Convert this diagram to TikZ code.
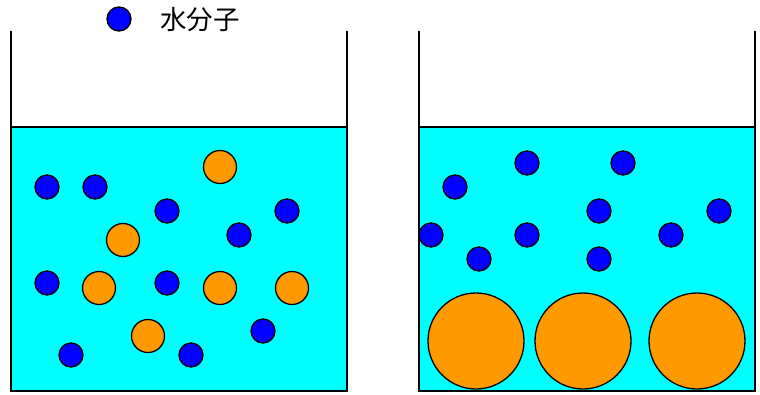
\documentclass[tikz,border=0pt]{standalone}
\usepackage{fontspec}
\newfontfamily\cjk{Noto Sans CJK JP}
\definecolor{water}{RGB}{0,255,255}
\definecolor{mol}{RGB}{0,0,255}
\definecolor{solute}{RGB}{255,153,0}
\begin{document}
\begin{tikzpicture}[x=1pt,y=-1pt,
  wall/.style={draw=black,line width=1.5pt},
  watermol/.style={circle,draw=black,line width=1.3pt,fill=mol,minimum size=24pt,inner sep=0pt},
  smallsolute/.style={circle,draw=black,line width=1.3pt,fill=solute,minimum size=33pt,inner sep=0pt},
  bigsolute/.style={circle,draw=black,line width=1.3pt,fill=solute,minimum size=96pt,inner sep=0pt}]
\useasboundingbox (0,0) rectangle (760,394);
% legend
\node[watermol] (legmol) at (119,19) {};
\node[anchor=west,inner sep=0pt,font=\cjk\fontsize{26.5}{26.5}\selectfont] (legtext) at (160,20) {水分子};
% left beaker
\fill[water] (11,127) rectangle (347,391);
\draw[wall] (11,31) -- (11,391) -- (347,391) -- (347,31);
\draw[wall] (11,127) -- (347,127);
% right beaker
\fill[water] (419,127) rectangle (755,391);
\draw[wall] (419,31) -- (419,391) -- (755,391) -- (755,31);
\draw[wall] (419,127) -- (755,127);
% left: water molecules
\foreach \p [count=\i] in {(47,187),(95,187),(167,211),(287,211),(239,235),(47,283),(167,283),(71,355),(191,355),(263,331)}
  \node[watermol] (lw\i) at \p {};
% left: dissolved solute particles
\foreach \p [count=\i] in {(220,167),(123,240),(99,288),(220,288),(292,288),(148,336)}
  \node[smallsolute] (ls\i) at \p {};
% right: water molecules
\foreach \p [count=\i] in {(455,187),(527,163),(623,163),(599,211),(719,211),(431,235),(527,235),(671,235),(479,259),(599,259)}
  \node[watermol] (rw\i) at \p {};
% right: large solute particles
\foreach \p [count=\i] in {(476,341),(583,341),(697,341)}
  \node[bigsolute] (rs\i) at \p {};
\end{tikzpicture}
\end{document}
